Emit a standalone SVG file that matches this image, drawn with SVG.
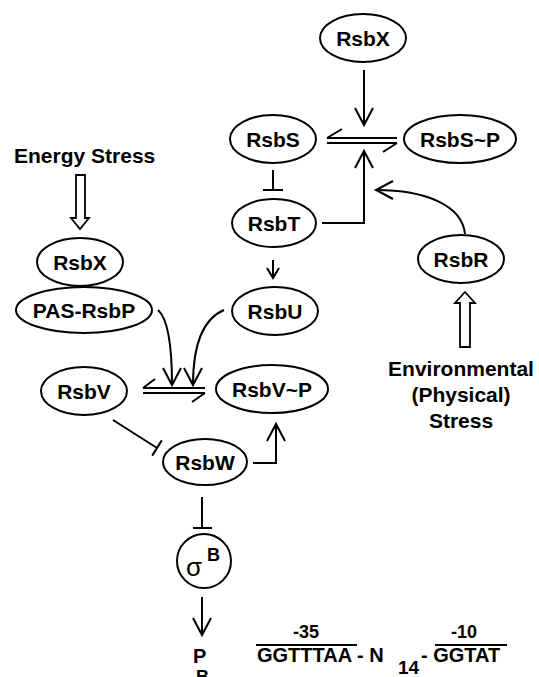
<svg xmlns="http://www.w3.org/2000/svg" width="539" height="677" viewBox="0 0 539 677">
  <style>
    .node ellipse, .node circle { fill: #fff; stroke: #000; stroke-width: 2; }
    .lbl { font-family: "Liberation Sans", Arial, sans-serif; font-weight: bold; font-size: 21px; text-anchor: middle; fill: #000; }
    .txt { font-family: "Liberation Sans", Arial, sans-serif; font-weight: bold; fill: #000; }
    .ln { fill: none; stroke: #000; stroke-width: 2; }
    .hollow { fill: #fff; stroke: #000; stroke-width: 1.8; stroke-linejoin: miter; }
  </style>
  <defs>
    <marker id="vee" markerUnits="userSpaceOnUse" markerWidth="24" markerHeight="24" refX="0" refY="0" orient="auto" overflow="visible">
      <path d="M-17,-9 L0,0 L-17,9" fill="none" stroke="#000" stroke-width="2"/>
    </marker>
    <marker id="veeSmall" markerUnits="userSpaceOnUse" markerWidth="16" markerHeight="16" refX="0" refY="0" orient="auto" overflow="visible">
      <path d="M-10,-6 L0,0 L-10,6" fill="none" stroke="#000" stroke-width="2"/>
    </marker>
  </defs>

  <rect width="539" height="677" fill="#fff"/>

  <!-- connectors -->
  <g id="connectors">
    <!-- RsbX promotes RsbS~P -> RsbS -->
    <path class="ln" d="M364,70 V125" marker-end="url(#vee)"/>
    <!-- RsbS / RsbS~P equilibrium -->
    <path class="ln" d="M327,138 H397 M327,143 H397 M327,138 L342,129 M397,143 L383,152"/>
    <!-- RsbS inhibits RsbT -->
    <path class="ln" d="M273,170 V190 M263,190 H283"/>
    <!-- RsbT phosphorylates RsbS -->
    <path class="ln" d="M322,223 H364 V151" marker-end="url(#vee)"/>
    <!-- RsbR -->
    <path class="ln" d="M465,234 C462,205 425,190 376,190" marker-end="url(#vee)"/>
    <!-- RsbT to RsbU -->
    <path class="ln" d="M273,260 V278" marker-end="url(#veeSmall)"/>
    <!-- phosphatases acting on RsbV~P -->
    <path class="ln" d="M158,310 C167,318 172,342 172,385" marker-end="url(#vee)"/>
    <path class="ln" d="M224,310 C205,318 193,342 193,385" marker-end="url(#vee)"/>
    <!-- RsbV / RsbV~P equilibrium -->
    <path class="ln" d="M143,388 H205 M143,393 H205 M143,388 L155,379 M205,393 L192,402"/>
    <!-- RsbV inhibits RsbW -->
    <path class="ln" d="M113,420 L157,448 M152.2,455.6 L161.8,440.4"/>
    <!-- RsbW phosphorylates RsbV -->
    <path class="ln" d="M253,463 H276 V424" marker-end="url(#vee)"/>
    <!-- RsbW inhibits sigma B -->
    <path class="ln" d="M202,497 V528 M193,528 H212"/>
    <!-- sigma B to promoter -->
    <path class="ln" d="M202,597 V635" marker-end="url(#vee)"/>
    <!-- stress inputs -->
    <polygon class="hollow" points="76,175 85,175 85,218 89,218 80,229 71,218 76,218"/>
    <polygon class="hollow" points="465,292 475,303 470,303 470,347 460,347 460,303 455,303"/>
  </g>

  <!-- nodes -->
  <g id="rsbX-top" class="node">
    <ellipse cx="363" cy="38" rx="43" ry="24"/>
    <text class="lbl" x="363" y="45.5">RsbX</text>
  </g>
  <g id="rsbS" class="node">
    <ellipse cx="273" cy="139" rx="43" ry="24"/>
    <text class="lbl" x="273" y="146.5">RsbS</text>
  </g>
  <g id="rsbS-P" class="node">
    <ellipse cx="460" cy="139" rx="56" ry="24"/>
    <text class="lbl" x="460" y="146.5">RsbS~P</text>
  </g>
  <g id="rsbT" class="node">
    <ellipse cx="274" cy="223" rx="42" ry="24"/>
    <text class="lbl" x="274" y="230.5">RsbT</text>
  </g>
  <g id="rsbU" class="node">
    <ellipse cx="275" cy="311" rx="43" ry="24"/>
    <text class="lbl" x="275" y="318.5">RsbU</text>
  </g>
  <g id="rsbR" class="node">
    <ellipse cx="461" cy="259" rx="43" ry="24"/>
    <text class="lbl" x="461" y="266.5">RsbR</text>
  </g>
  <g id="rsbX-left" class="node">
    <ellipse cx="80" cy="262" rx="43" ry="24"/>
    <text class="lbl" x="80" y="269.5">RsbX</text>
  </g>
  <g id="pas-rsbP" class="node">
    <ellipse cx="84" cy="310" rx="68" ry="23"/>
    <text class="lbl" x="84" y="317.5">PAS-RsbP</text>
  </g>
  <g id="rsbV" class="node">
    <ellipse cx="84" cy="391" rx="43" ry="24"/>
    <text class="lbl" x="84" y="398.5">RsbV</text>
  </g>
  <g id="rsbV-P" class="node">
    <ellipse cx="272" cy="389" rx="56" ry="24"/>
    <text class="lbl" x="272" y="396.5">RsbV~P</text>
  </g>
  <g id="rsbW" class="node">
    <ellipse cx="205" cy="462" rx="42" ry="23"/>
    <text class="lbl" x="205" y="469.5">RsbW</text>
  </g>
  <g id="sigmaB" class="node">
    <circle cx="204" cy="561" r="27"/>
    <text x="186" y="576" font-family="'Liberation Sans', Arial, sans-serif" font-size="26">σ</text>
    <text class="txt" x="207" y="561" font-size="18">B</text>
  </g>

  <!-- stress labels -->
  <g id="energy-stress">
    <text class="txt" x="14" y="163" font-size="21">Energy Stress</text>
  </g>
  <g id="environmental-stress">
    <text class="txt" x="461" y="376" font-size="21" text-anchor="middle">Environmental</text>
    <text class="txt" x="461" y="402" font-size="21" text-anchor="middle">(Physical)</text>
    <text class="txt" x="461" y="428" font-size="21" text-anchor="middle">Stress</text>
  </g>

  <!-- promoter -->
  <g id="promoter">
    <text class="txt" x="193" y="663" font-size="20">P</text>
    <text class="txt" x="196" y="683" font-size="18">B</text>
    <text class="txt" x="306" y="638" font-size="18" text-anchor="middle">-35</text>
    <text class="txt" x="464" y="638" font-size="18" text-anchor="middle">-10</text>
    <path class="ln" d="M256,645 H357 M435,645 H507"/>
    <text class="txt" x="257" y="662" font-size="20">GGTTTAA - N</text>
    <text class="txt" x="398" y="674" font-size="19">14</text>
    <text class="txt" x="421" y="662" font-size="20">- GGTAT</text>
  </g>
</svg>
